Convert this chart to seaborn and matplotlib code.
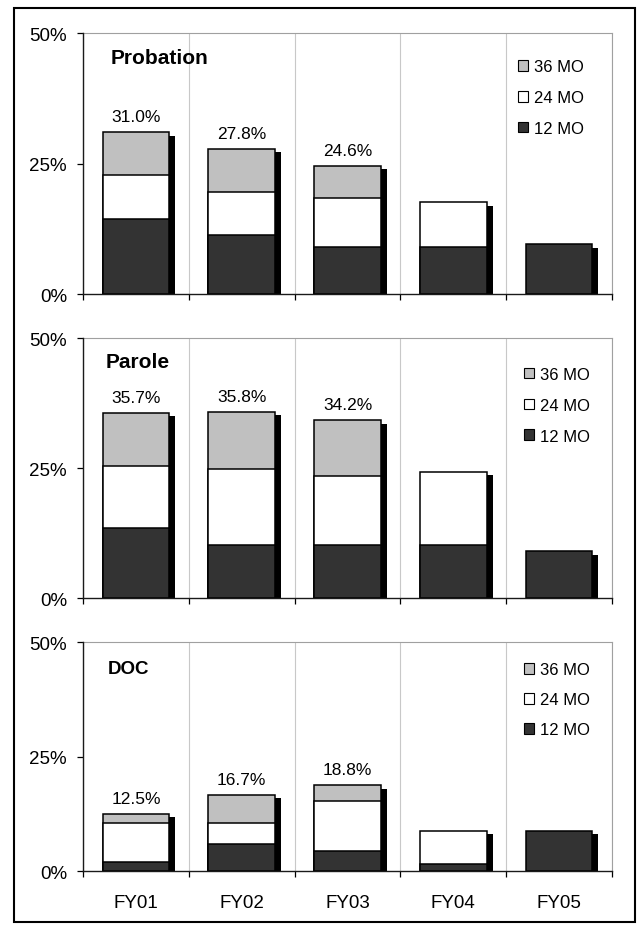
import numpy as np
import pandas as pd
import matplotlib
matplotlib.use("Agg")
import matplotlib.pyplot as plt
import matplotlib.transforms as mtransforms
from matplotlib.patches import Patch, Rectangle
from matplotlib.ticker import NullFormatter
import seaborn as sns

# Cumulative recidivism rates (%) by release cohort and follow-up window
years = ["FY01", "FY02", "FY03", "FY04", "FY05"]
windows = ["12 MO", "24 MO", "36 MO"]

probation_12 = [14.3, 11.3, 9.0, 9.0, 9.5]
probation_24 = [22.9, 19.5, 18.4, 17.6, np.nan]
probation_36 = [31.0, 27.8, 24.6, np.nan, np.nan]

parole_12 = [13.4, 10.2, 10.2, 10.2, 9.0]
parole_24 = [25.5, 24.8, 23.5, 24.3, np.nan]
parole_36 = [35.7, 35.8, 34.2, np.nan, np.nan]

doc_12 = [2.1, 6.0, 4.5, 1.7, 8.8]
doc_24 = [10.5, 10.5, 15.4, 8.8, np.nan]
doc_36 = [12.5, 16.7, 18.8, np.nan, np.nan]

panel_names = ["Probation", "Parole", "DOC"]
panel_rates = [
    (probation_12, probation_24, probation_36),
    (parole_12, parole_24, parole_36),
    (doc_12, doc_24, doc_36),
]

y_ticks = [0, 25, 50]
y_tick_labels = ["0%", "25%", "50%"]

fill_colors = {"12 MO": "#333333", "24 MO": "#ffffff", "36 MO": "#c0c0c0"}

sns.set_style("white")
plt.rcParams["font.family"] = ["Liberation Sans", "DejaVu Sans"]
plt.rcParams["text.color"] = "black"
plt.rcParams["xtick.color"] = "black"
plt.rcParams["ytick.color"] = "black"

W, H = 641, 928
fig = plt.figure(figsize=(W / 100, H / 100), dpi=100)

# axes boxes in figure fractions
axes_rects = [
    [0.1295, 0.6821, 0.8253, 0.2809],
    [0.1295, 0.3545, 0.8253, 0.2798],
    [0.1295, 0.0600, 0.8253, 0.2468],
]
title_pos = [(0.053, 0.886, 15), (0.043, 0.889, 15), (0.046, 0.866, 13.5)]
legend_anchor = [(0.822, 0.900), (0.834, 0.890), (0.834, 0.912)]
legend_spacing = [0.95, 0.95, 0.89]

bar_width = 0.63
shadow_shift = mtransforms.ScaledTranslation(6 / 100, -3.3 / 100, fig.dpi_scale_trans)

for k, (rect, name, rates) in enumerate(zip(axes_rects, panel_names, panel_rates)):
    ax = fig.add_axes(rect)
    long = pd.DataFrame({
        "year": years * len(windows),
        "window": [w for w in windows for _ in years],
        "rate": list(rates[0]) + list(rates[1]) + list(rates[2]),
    }).dropna()
    totals = long.groupby("year")["rate"].max().reindex(years).reset_index()

    # drop shadow behind each full stack
    n0 = len(ax.patches)
    sns.barplot(data=totals, x="year", y="rate", order=years, color="black",
                saturation=1, width=bar_width, linewidth=0, errorbar=None,
                ax=ax, zorder=1.5)
    for p in ax.patches[n0:]:
        p.set_transform(ax.transData + shadow_shift)

    # overlapping cumulative bars: longest window first
    for w in ["36 MO", "24 MO", "12 MO"]:
        sub = long[long["window"] == w]
        sns.barplot(data=sub, x="year", y="rate", order=years,
                    color=fill_colors[w], saturation=1, width=bar_width,
                    edgecolor="black", linewidth=1.1, errorbar=None,
                    ax=ax, zorder=2)

    # 36-month totals above the bars
    for i, v in enumerate(rates[2]):
        if not np.isnan(v):
            ax.annotate(f"{v:.1f}%", xy=(i, v), xytext=(0, 8),
                        textcoords="offset points", ha="center",
                        va="baseline", fontsize=12.5, zorder=5)

    ax.set_xlim(-0.5, len(years) - 0.5)
    ax.set_ylim(0, 50)
    ax.set_xlabel("")
    ax.set_ylabel("")
    ax.set_yticks(y_ticks, y_tick_labels)

    ax.set_xticks(np.arange(-0.5, len(years)))
    ax.xaxis.set_major_formatter(NullFormatter())
    if k == len(panel_names) - 1:
        ax.set_xticks(range(len(years)), years, minor=True)
    else:
        ax.set_xticks(range(len(years)), [""] * len(years), minor=True)

    ax.set_axisbelow(True)
    ax.grid(False)
    ax.xaxis.grid(True, which="major", color="#c8c8c8", linewidth=0.8)

    ax.tick_params(axis="y", which="major", left=True, length=4.5, width=0.9,
                   pad=7, labelsize=13.5)
    ax.tick_params(axis="x", which="major", bottom=True, length=4.5, width=0.9)
    ax.tick_params(axis="x", which="minor", bottom=True, length=0, pad=16,
                   labelsize=13.5)

    for side in ["left", "bottom"]:
        ax.spines[side].set_color("#1a1a1a")
        ax.spines[side].set_linewidth(1.0)
        ax.spines[side].set_zorder(4)
    for side in ["top", "right"]:
        ax.spines[side].set_color("#a0a0a0")
        ax.spines[side].set_linewidth(0.8)

    tx, ty, tsize = title_pos[k]
    ax.text(tx, ty, name, transform=ax.transAxes, fontsize=tsize,
            fontweight="bold", ha="left", va="baseline")

    handles = [Patch(facecolor=fill_colors[w], edgecolor="black",
                     linewidth=0.8, label=w) for w in ["36 MO", "24 MO", "12 MO"]]
    ax.legend(handles=handles, loc="upper left", bbox_to_anchor=legend_anchor[k],
              frameon=False, fontsize=12, handlelength=0.6, handleheight=0.6,
              handletextpad=0.35, labelspacing=legend_spacing[k],
              borderpad=0, borderaxespad=0)

# outer frame
fig.add_artist(Rectangle((14 / W, 1 - 923 / H), (635 - 14) / W, (923 - 9) / H,
                         transform=fig.transFigure, fill=False,
                         edgecolor="black", linewidth=1.5))

fig.savefig("out.png", dpi=100)
